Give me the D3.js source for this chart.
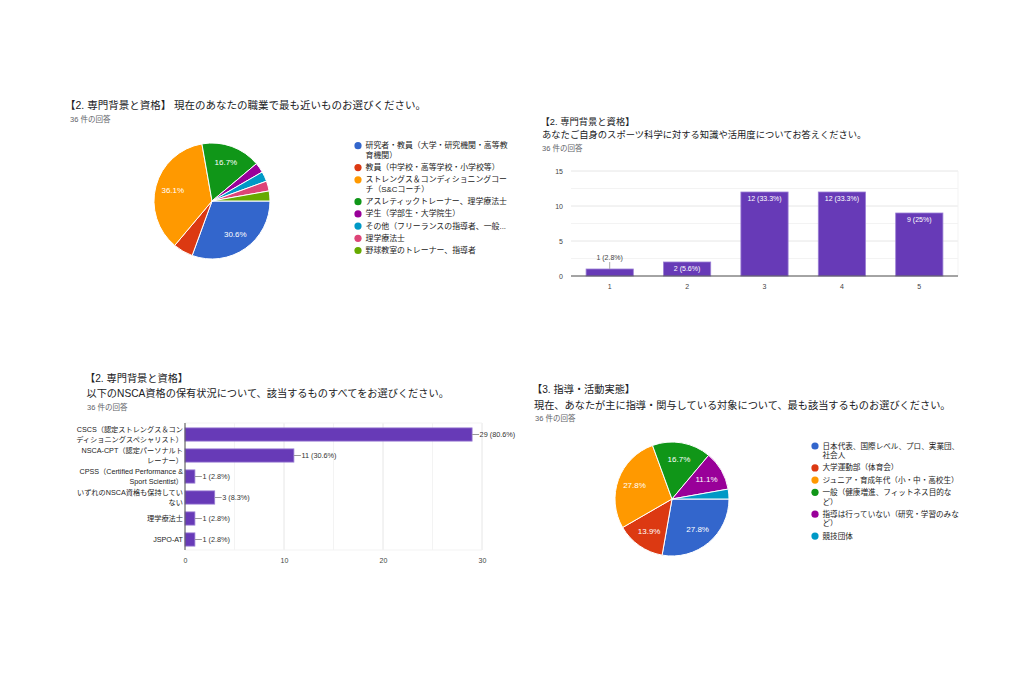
<!DOCTYPE html>
<html><head><meta charset="utf-8">
<script src="https://cdn.jsdelivr.net/npm/d3@7"></script>
<style>
body{margin:0;background:#fff;}
svg{display:block;font-family:"Liberation Sans",Arial,"Noto Sans CJK JP",sans-serif;}
</style></head><body>
<svg id="c" width="1024" height="683"></svg>
<script>
const palette = ["#3366cc","#dc3912","#ff9900","#109618","#990099","#0099c6","#dd4477","#66aa00"];
const total = 36;

// Panel 1: occupation (pie)
const occTitle = ["【2. 専門背景と資格】 現在のあなたの職業で最も近いものお選びください。"];
const occLabels = [
  ["研究者・教員（大学・研究機関・高等教","育機関）"],
  ["教員（中学校・高等学校・小学校等）"],
  ["ストレングス＆コンディショニングコー","チ（S&Cコーチ）"],
  ["アスレティックトレーナー、理学療法士"],
  ["学生（学部生・大学院生）"],
  ["その他（フリーランスの指導者、一般..."],
  ["理学療法士"],
  ["野球教室のトレーナー、指導者"]
];
const occValues = [11, 2, 13, 6, 1, 1, 1, 1];

// Panel 2: knowledge level (vertical bars)
const lvlTitle = ["【2. 専門背景と資格】", "あなたご自身のスポーツ科学に対する知識や活用度についてお答えください。"];
const lvlCats = ["1", "2", "3", "4", "5"];
const lvlValues = [1, 2, 12, 12, 9];
const lvlTicks = [0, 5, 10, 15];

// Panel 3: NSCA certification (horizontal bars)
const nscaTitle = ["【2. 専門背景と資格】", "以下のNSCA資格の保有状況について、該当するものすべてをお選びください。"];
const nscaCats = [
  ["CSCS（認定ストレングス＆コン","ディショニングスペシャリスト）"],
  ["NSCA-CPT（認定パーソナルト","レーナー）"],
  ["CPSS（Certified Performance &","Sport Scientist）"],
  ["いずれのNSCA資格も保持してい","ない"],
  ["理学療法士"],
  ["JSPO-AT"]
];
const nscaValues = [29, 11, 1, 3, 1, 1];
const nscaTicks = [0, 10, 20, 30];

// Panel 4: coaching target (pie)
const tgtTitle = ["【3. 指導・活動実態】", "現在、あなたが主に指導・関与している対象について、最も該当するものお選びください。"];
const tgtLabels = [
  ["日本代表、国際レベル、プロ、実業団、","社会人"],
  ["大学運動部（体育会）"],
  ["ジュニア・育成年代（小・中・高校生）"],
  ["一般（健康増進、フィットネス目的な","ど）"],
  ["指導は行っていない（研究・学習のみな","ど）"],
  ["競技団体"]
];
const tgtValues = [10, 5, 10, 6, 4, 1];

const responses = "36 件の回答";
const pct = v => +(v / total * 100).toFixed(1) + "%";

const svg = d3.select("#c");
const BAR = "#673ab7", BARSTROKE = "#9b7fd4";

function header(lines, x, ys, sizes, subY, subX) {
  lines.forEach((t, i) => {
    svg.append("text").attr("x", x[i]).attr("y", ys[i]).attr("dominant-baseline", "central")
      .attr("font-size", sizes).attr("fill", "#202124").text(t);
  });
  svg.append("text").attr("x", subX).attr("y", subY).attr("dominant-baseline", "central")
    .attr("font-size", 7.5).attr("fill", "#5f6368").text(responses);
}

function pieChart(values, labels, cx, cy, r, legX, legY, legSize) {
  const g = svg.append("g").attr("transform", `translate(${cx},${cy})`);
  const pie = d3.pie().sort(null).startAngle(Math.PI / 2).endAngle(Math.PI / 2 + 2 * Math.PI);
  const arcs = pie(values);
  const arc = d3.arc().innerRadius(0).outerRadius(r);
  const lab = d3.arc().innerRadius(r * 0.7).outerRadius(r * 0.7);
  g.selectAll("path").data(arcs).join("path").attr("d", arc)
    .attr("fill", (d, i) => palette[i]).attr("stroke", "#fff").attr("stroke-width", 1);
  g.selectAll("text").data(arcs.filter(d => d.value / total > 0.1)).join("text")
    .attr("transform", d => `translate(${lab.centroid(d)})`)
    .attr("text-anchor", "middle").attr("dominant-baseline", "central")
    .attr("font-size", 8).attr("fill", "#fff").text(d => pct(d.value));
  // legend
  const L = 9.7, E = 2.5;
  let y = legY;
  labels.forEach((lines, i) => {
    svg.append("circle").attr("cx", legX).attr("cy", y).attr("r", 3.6).attr("fill", palette[i]);
    lines.forEach((t, j) => {
      svg.append("text").attr("x", legX + 7.5).attr("y", y + j * L).attr("dominant-baseline", "central")
        .attr("font-size", legSize).attr("fill", "#222").text(t);
    });
    y += lines.length * L + E;
  });
}

// ---- Panel 1
header(occTitle, [65], [105], 10.5, 119.3, 70);
pieChart(occValues, occLabels, 212, 201, 58, 358, 145.7, 7.9);

// ---- Panel 2
header(lvlTitle, [540.5, 542], [121.7, 135], 9.3, 148, 542);
{
  const x = d3.scaleBand().domain(lvlCats).range([571, 958]).paddingInner(0.39).paddingOuter(0.195);
  const y = d3.scaleLinear().domain([0, 15]).range([276, 171]);
  const g = svg.append("g");
  const minor = d3.range(0, 15.01, 2.5);
  g.selectAll("line.grid").data(minor).join("line").attr("class", "grid")
    .attr("x1", 571).attr("x2", 958).attr("y1", d => y(d)).attr("y2", d => y(d))
    .attr("stroke", d => d % 5 === 0 ? "#e6e6e6" : "#f3f3f3").attr("stroke-width", 1);
  g.append("line").attr("x1", 958).attr("x2", 958).attr("y1", y(15)).attr("y2", y(0)).attr("stroke", "#f3f3f3");
  const ya = d3.axisLeft(y).tickValues(lvlTicks).tickSize(0).tickPadding(8);
  g.append("g").attr("transform", "translate(571,0)").call(ya)
    .call(s => s.select(".domain").remove())
    .selectAll("text").attr("font-size", 7).attr("fill", "#444").attr("font-family", null);
  g.selectAll("rect").data(lvlValues).join("rect")
    .attr("x", (d, i) => x(lvlCats[i])).attr("width", x.bandwidth())
    .attr("y", d => y(d)).attr("height", d => y(0) - y(d))
    .attr("fill", BAR).attr("stroke", BARSTROKE).attr("stroke-width", 0.8);
  lvlValues.forEach((v, i) => {
    const cxp = x(lvlCats[i]) + x.bandwidth() / 2;
    const inside = y(0) - y(v) > 12;
    if (inside) {
      g.append("text").attr("x", cxp).attr("y", y(v) + 6).attr("text-anchor", "middle")
        .attr("dominant-baseline", "central").attr("font-size", 7).attr("fill", "#fff").text(`${v} (${pct(v)})`);
    } else {
      g.append("line").attr("x1", cxp).attr("x2", cxp).attr("y1", y(v)).attr("y2", y(v) - 7).attr("stroke", "#aaa");
      g.append("text").attr("x", cxp).attr("y", y(v) - 12).attr("text-anchor", "middle")
        .attr("dominant-baseline", "central").attr("font-size", 7).attr("fill", "#444").text(`${v} (${pct(v)})`);
    }
  });
  g.append("line").attr("x1", 571).attr("x2", 958).attr("y1", y(0)).attr("y2", y(0)).attr("stroke", "#555").attr("stroke-width", 1);
  const xa = d3.axisBottom(x).tickSize(0).tickPadding(8);
  g.append("g").attr("transform", `translate(0,${y(0)})`).call(xa)
    .call(s => s.select(".domain").remove())
    .selectAll("text").attr("font-size", 7).attr("fill", "#444").attr("font-family", null);
}

// ---- Panel 3
header(nscaTitle, [85, 86.5], [378, 393], 10.2, 407, 87);
{
  const x = d3.scaleLinear().domain([0, 30]).range([185, 482]);
  const y = d3.scaleBand().domain(d3.range(nscaValues.length)).range([424, 550]).paddingInner(0.37).paddingOuter(0.185);
  const g = svg.append("g");
  g.selectAll("line.grid").data(d3.range(0, 30.01, 5)).join("line")
    .attr("x1", d => x(d)).attr("x2", d => x(d)).attr("y1", 423).attr("y2", 550)
    .attr("stroke", d => d % 10 === 0 ? "#e6e6e6" : "#f3f3f3");
  g.append("line").attr("x1", 185).attr("x2", 482).attr("y1", 423).attr("y2", 423).attr("stroke", "#f3f3f3");
  g.append("line").attr("x1", 185).attr("x2", 482).attr("y1", 550).attr("y2", 550).attr("stroke", "#f3f3f3");
  g.selectAll("rect").data(nscaValues).join("rect")
    .attr("x", x(0)).attr("y", (d, i) => y(i)).attr("height", y.bandwidth())
    .attr("width", d => x(d) - x(0))
    .attr("fill", BAR).attr("stroke", BARSTROKE).attr("stroke-width", 0.8);
  nscaValues.forEach((v, i) => {
    const cy = y(i) + y.bandwidth() / 2;
    g.append("line").attr("x1", x(v)).attr("x2", x(v) + 7).attr("y1", cy).attr("y2", cy).attr("stroke", "#999");
    g.append("text").attr("x", x(v) + 7.5).attr("y", cy).attr("dominant-baseline", "central")
      .attr("font-size", 7.3).attr("fill", "#333").text(`${v} (${pct(v)})`);
    const lines = nscaCats[i];
    lines.forEach((t, j) => {
      g.append("text").attr("x", 183).attr("y", cy + (j - (lines.length - 1) / 2) * 9.6)
        .attr("text-anchor", "end").attr("dominant-baseline", "central")
        .attr("font-size", 7.2).attr("fill", "#222").text(t);
    });
  });
  g.append("line").attr("x1", 185).attr("x2", 185).attr("y1", 423).attr("y2", 550).attr("stroke", "#555");
  const xa = d3.axisBottom(x).tickValues(nscaTicks).tickSize(0).tickPadding(8);
  g.append("g").attr("transform", "translate(0,550)").call(xa)
    .call(s => s.select(".domain").remove())
    .selectAll("text").attr("font-size", 7).attr("fill", "#444").attr("font-family", null);
}

// ---- Panel 4
header(tgtTitle, [532, 534], [389, 405], 10.2, 418, 535);
pieChart(tgtValues, tgtLabels, 672, 499, 57, 815, 446, 7.6);
</script></body></html>
